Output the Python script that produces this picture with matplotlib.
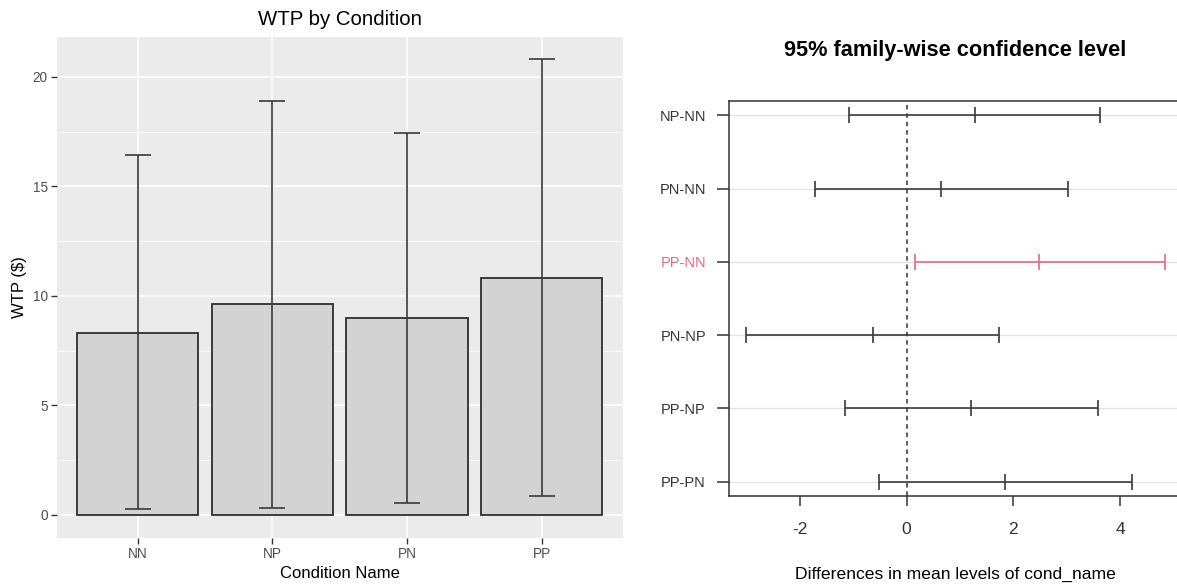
import matplotlib.pyplot as plt
import numpy as np

plt.rcParams['font.family'] = ['Liberation Sans', 'DejaVu Sans']
plt.rcParams['axes.unicode_minus'] = False

# WTP medio por condicion y extremos de las barras de error
condiciones = ['NN', 'NP', 'PN', 'PP']
wtp_media = [8.33, 9.63, 8.97, 10.80]
wtp_inferior = [0.27, 0.33, 0.55, 0.86]
wtp_superior = [16.44, 18.88, 17.42, 20.80]

# Comparaciones de Tukey HSD (diferencia y limites del intervalo)
comparaciones = ['NP-NN', 'PN-NN', 'PP-NN', 'PN-NP', 'PP-NP', 'PP-PN']
diferencias = [1.28, 0.64, 2.48, -0.63, 1.21, 1.85]
limite_inf = [-1.08, -1.72, 0.15, -3.01, -1.15, -0.51]
limite_sup = [3.63, 3.02, 4.84, 1.74, 3.59, 4.23]

fig = plt.figure(figsize=(11.77, 5.84), dpi=100)

# --- Grafica de barras estilo ggplot ---
ax1 = fig.add_axes([0.0483, 0.0793, 0.4806, 0.8579])
ax1.set_facecolor('#EBEBEB')
ax1.set_axisbelow(True)

x = np.arange(1, len(condiciones) + 1)
media = np.array(wtp_media)
yerr = [media - np.array(wtp_inferior), np.array(wtp_superior) - media]

ax1.bar(x, wtp_media, width=0.9, color='#D3D3D3', edgecolor='#2E2E2E', linewidth=1.3, zorder=2)
ax1.errorbar(x, wtp_media, yerr=yerr, fmt='none', ecolor='#3A3A3A', elinewidth=1.2,
             capsize=9.7, capthick=1.2, zorder=3)

# limites con la expansion del 5% de ggplot
y_min = min(0, min(wtp_inferior))
y_max = max(wtp_superior)
rango = y_max - y_min
ax1.set_ylim(y_min - 0.05 * rango, y_max + 0.05 * rango)
ax1.set_xlim(0.4, len(condiciones) + 0.6)

ax1.set_xticks(x, condiciones)
ax1.set_yticks([0, 5, 10, 15, 20])
ax1.set_yticks([2.5, 7.5, 12.5, 17.5], minor=True)
ax1.grid(which='major', color='white', linewidth=1.1)
ax1.grid(which='minor', axis='y', color='white', linewidth=0.55)
for s in ax1.spines.values():
    s.set_visible(False)
ax1.tick_params(which='major', length=4, width=1, color='#333333', labelcolor='#4D4D4D',
                labelsize=9.8, pad=2.5)
ax1.tick_params(which='minor', length=0)

ax1.set_title('WTP by Condition', fontsize=14.7, pad=8.5)
ax1.set_xlabel('Condition Name', fontsize=12, labelpad=4)
ax1.set_ylabel('WTP ($)', fontsize=12, labelpad=4)

# --- Intervalos de confianza de Tukey ---
ax2 = fig.add_axes([0.6196, 0.1503, 0.3843, 0.6772])
filas = np.arange(len(comparaciones), 0, -1)

# color rojo para los intervalos que no incluyen el cero
colores = ['#E26A80' if (li > 0 or ls < 0) else '#3A3A3A'
           for li, ls in zip(limite_inf, limite_sup)]

ax2.set_axisbelow(True)
ax2.set_yticks(filas, comparaciones)
ax2.yaxis.grid(True, color='#E2E2E2', linewidth=0.9)

ax2.hlines(filas, limite_inf, limite_sup, colors=colores, linewidth=1.2, zorder=3)
for i in range(len(comparaciones)):
    ax2.plot([limite_inf[i], diferencias[i], limite_sup[i]], [filas[i]] * 3,
             linestyle='none', marker='|', markersize=11, markeredgewidth=1.2,
             color=colores[i], zorder=3)
ax2.axvline(0, color='#333333', linestyle=(0, (3, 2.5)), linewidth=1.1, zorder=2)

# rango con la extension del 4% de R
x_min = min(limite_inf)
x_max = max(limite_sup)
ext = 0.04 * (x_max - x_min)
ax2.set_xlim(x_min - ext, x_max + ext)
ax2.set_ylim(0.8, len(comparaciones) + 0.2)
ax2.set_xticks([-2, 0, 2, 4])

for s in ax2.spines.values():
    s.set_color('#333333')
    s.set_linewidth(1.1)
ax2.tick_params(axis='y', length=8.4, width=1.1, color='#333333', labelcolor='#333333',
                labelsize=10.5, pad=8.4)
ax2.tick_params(axis='x', length=7.2, width=1.1, color='#333333', labelcolor='#333333',
                labelsize=12.5, pad=11)
for etiqueta, color in zip(ax2.get_yticklabels(), colores):
    if color != '#3A3A3A':
        etiqueta.set_color(color)

ax2.set_title('95% family-wise confidence level', fontsize=15.7, fontweight='bold', pad=32)
ax2.set_xlabel('Differences in mean levels of cond_name', fontsize=12.6, labelpad=22)

fig.savefig('out.png', dpi=100)
